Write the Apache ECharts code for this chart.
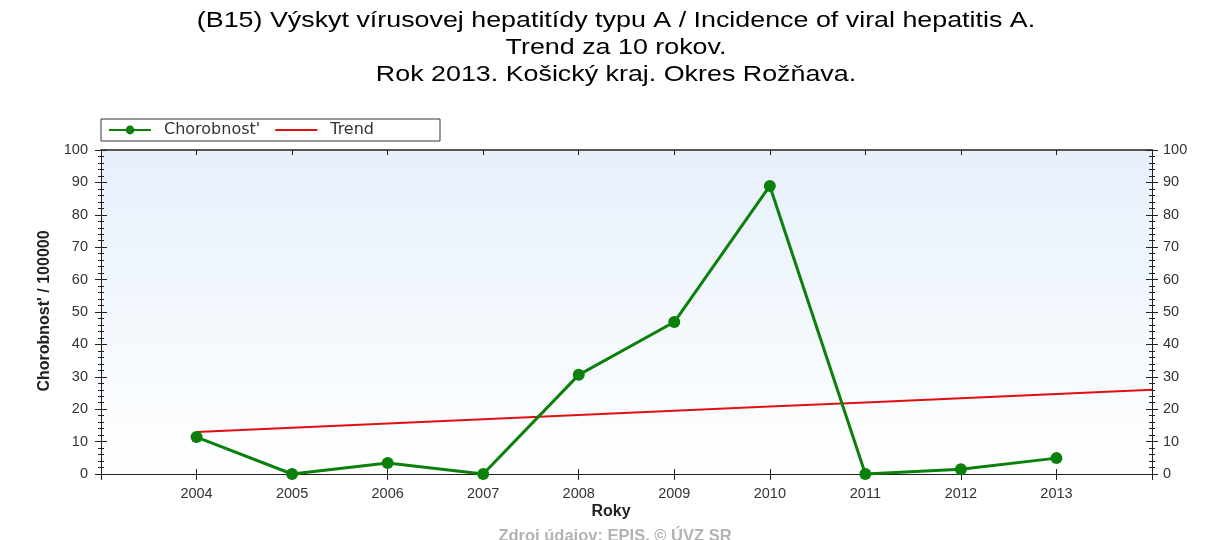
<!DOCTYPE html>
<html><head><meta charset="utf-8">
<script src="https://cdn.jsdelivr.net/npm/echarts@6/dist/echarts.min.js"></script>
<style>html,body{margin:0;padding:0;background:#fff}#c{width:1216px;height:540px}</style>
</head><body><div id="c"></div>
<script>
const years = [2004, 2005, 2006, 2007, 2008, 2009, 2010, 2011, 2012, 2013];
const incidence = [11.4, 0, 3.4, 0, 30.6, 46.9, 88.9, 0, 1.5, 4.9];
const trendYears = [2004, 2005, 2006, 2007, 2008, 2009, 2010, 2011, 2012, 2013, 2014];
const trendValues = [13.0, 14.3, 15.6, 16.9, 18.2, 19.5, 20.8, 22.1, 23.4, 24.7, 26.0];
const yTicks = [0, 10, 20, 30, 40, 50, 60, 70, 80, 90, 100];
const titleLines = ['(B15) Výskyt vírusovej hepatitídy typu A / Incidence of viral hepatitis A.', 'Trend za 10 rokov.', 'Rok 2013. Košický kraj. Okres Rožňava.'];
const seriesNames = ["Chorobnost'", 'Trend'];
const xName = 'Roky';
const yName = "Chorobnost' / 100000";
const source = 'Zdroj údajov: EPIS, © ÚVZ SR';

const font = 'Liberation Sans, Arial, sans-serif';
const tfont = 'DejaVu Sans, Verdana, sans-serif';
const chart = echarts.init(document.getElementById('c'));
const xBase = {type:'value', min:2003, max:2014, interval:1,
  splitLine:{show:false}, axisLine:{show:true, onZero:false, lineStyle:{color:'#222', width:1}}};
const yBase = {type:'value', min:0, max:100, interval:10, splitLine:{show:false},
  axisLine:{show:true, lineStyle:{color:'#222', width:1}}};
const xlab = v => (years.indexOf(v) >= 0 ? String(v) : '');
const ylab = v => (yTicks.indexOf(v) >= 0 ? String(v) : '');
const titleY = [21, 48, 75];
const graphics = titleLines.map((t, i) => ({type:'text', x:616, y:titleY[i], scaleX:1.22,
  style:{text:t, font:'22px ' + font, fill:'#000', align:'center', verticalAlign:'middle'}}));
graphics.push(
  {type:'text', x:611, y:512, style:{text:xName, font:'bold 16px '+font, fill:'#222', align:'center', verticalAlign:'middle'}},
  {type:'text', x:615, y:536, style:{text:source, font:'bold 16.5px '+font, fill:'#b3b3b3', align:'center', verticalAlign:'middle'}},
  {type:'text', x:45, y:311, rotation:Math.PI/2, style:{text:yName, font:'bold 16px '+font, fill:'#222', align:'center', verticalAlign:'middle'}}
);
chart.setOption({
  animation:false,
  legend:{left:101, top:119, orient:'horizontal', itemWidth:42, itemHeight:11, itemGap:14,
    borderColor:'#333', borderWidth:1, padding:[3, 66, 3, 7], borderRadius:0,
    textStyle:{fontFamily:tfont, fontSize:16, color:'#333', padding:[0, 0, 0, 8]},
    data:[seriesNames[0], {name:seriesNames[1], itemStyle:{opacity:0}}]},
  grid:{left:101, right:64, top:150, bottom:66, show:true, borderWidth:0,
    backgroundColor:{type:'linear', x:0, y:0, x2:0, y2:1,
      colorStops:[{offset:0, color:'#e6f0fb'}, {offset:1, color:'#ffffff'}]}},
  graphic:graphics,
  xAxis:[
    Object.assign({}, xBase, {position:'bottom', axisTick:{show:true, inside:false, length:6, lineStyle:{color:'#222'}},
      axisLabel:{formatter:xlab, margin:12, fontFamily:font, fontSize:14.5, color:'#333'}}),
    Object.assign({}, xBase, {position:'bottom', axisTick:{show:true, inside:true, length:5, lineStyle:{color:'#222'}},
      axisLabel:{show:false}}),
    Object.assign({}, xBase, {position:'top', axisLine:{show:true, onZero:false, lineStyle:{color:'#555', width:2}},
      axisTick:{show:true, inside:true, length:5, lineStyle:{color:'#222'}}, axisLabel:{show:false}})
  ],
  yAxis:[
    Object.assign({}, yBase, {position:'left', axisTick:{show:true, inside:false, length:6, lineStyle:{color:'#222'}},
      minorTick:{show:true, splitNumber:5, length:3, lineStyle:{color:'#222'}},
      axisLabel:{formatter:ylab, margin:13, fontFamily:font, fontSize:14.5, color:'#333'}}),
    Object.assign({}, yBase, {position:'left', axisTick:{show:true, inside:true, length:6, lineStyle:{color:'#222'}},
      minorTick:{show:true, splitNumber:5, length:3, lineStyle:{color:'#222'}}, axisLabel:{show:false}}),
    Object.assign({}, yBase, {position:'right', axisTick:{show:true, inside:false, length:6, lineStyle:{color:'#222'}},
      minorTick:{show:true, splitNumber:5, length:3, lineStyle:{color:'#222'}},
      axisLabel:{formatter:ylab, margin:11, fontFamily:font, fontSize:14.5, color:'#333'}}),
    Object.assign({}, yBase, {position:'right', axisTick:{show:true, inside:true, length:6, lineStyle:{color:'#222'}},
      minorTick:{show:true, splitNumber:5, length:3, lineStyle:{color:'#222'}}, axisLabel:{show:false}})
  ],
  series:[
    {name:seriesNames[0], type:'line', xAxisIndex:0, yAxisIndex:0, data:years.map((y,i)=>[y, incidence[i]]),
      symbol:'circle', symbolSize:12, lineStyle:{color:'#0b800b', width:3}, itemStyle:{color:'#0b800b'}, z:3},
    {name:seriesNames[1], type:'line', xAxisIndex:0, yAxisIndex:0, data:trendYears.map((y,i)=>[y, trendValues[i]]),
      symbol:'none', lineStyle:{color:'#e01010', width:2}, itemStyle:{color:'#e01010'}, z:2}
  ]
});
</script></body></html>
